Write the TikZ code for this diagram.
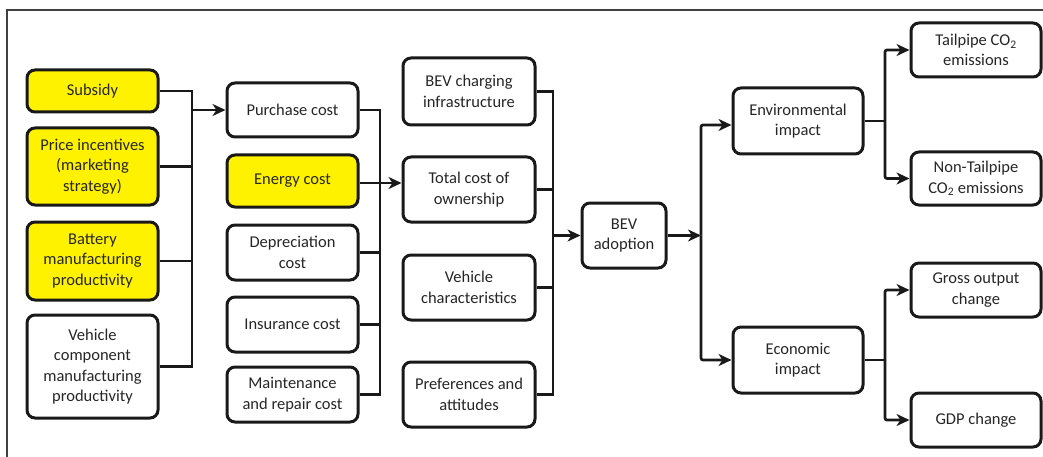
\documentclass[tikz,border=0pt]{standalone}
\usepackage{fontspec}
\setmainfont{Carlito}
\usetikzlibrary{arrows.meta,calc}
\begin{document}
\begin{tikzpicture}[x=1pt,y=-1pt,
  box/.style={draw=black!90,line width=3pt,rounded corners=8pt,fill=white,align=center,
    font=\fontsize{16.5}{20.5}\selectfont,text=black!85,inner sep=2pt,minimum width=#1},
  box/.default=131pt,
  hl/.style={fill=yellow},
  conn/.style={line width=2.7pt,draw=black!90},
  arr/.style={conn,-{Stealth[length=13pt,width=12pt,inset=4pt]}},
  frame/.style={line width=2.2pt,draw=black!75}]
\useasboundingbox (0,0) rectangle (1043,457);
\draw[frame] (7,457) -- (7,10) -- (1043,10);
% column 1
\node[box,hl,minimum height=42pt] (sub) at (92.5,91) {Subsidy};
\node[box,hl,minimum height=77pt] (pri) at (92.5,166.5) {Price incentives\\(marketing\\strategy)};
\node[box,hl,minimum height=78pt] (bat) at (92.5,261) {Battery\\manufacturing\\productivity};
\node[box,minimum height=103pt] (veh) at (92.5,366.5) {Vehicle\\component\\manufacturing\\productivity};
% column 2
\node[box,minimum height=54pt] (pur) at (292.5,110) {Purchase cost};
\node[box,hl,minimum height=52pt] (ene) at (292.5,181) {Energy cost};
\node[box,minimum height=55pt] (dep) at (292.5,252.5) {Depreciation\\cost};
\node[box,minimum height=55pt] (ins) at (292.5,324.5) {Insurance cost};
\node[box,minimum height=55pt] (mai) at (292.5,394.5) {Maintenance\\and repair cost};
% column 3
\node[box=132pt,minimum height=67pt] (chg) at (469,91.5) {BEV charging\\infrastructure};
\node[box=132pt,minimum height=65pt] (tco) at (469,189.5) {Total cost of\\ownership};
\node[box=132pt,minimum height=65pt] (vch) at (469,287.5) {Vehicle\\characteristics};
\node[box=132pt,minimum height=65pt] (pre) at (469,394.5) {Preferences and\\attitudes};
% BEV adoption
\node[box=84pt,minimum height=65pt] (bev) at (624,235.5) {BEV\\adoption};
% impacts
\node[box=130pt,minimum height=66pt] (env) at (798,121) {Environmental\\impact};
\node[box=130pt,minimum height=66pt] (eco) at (798,360) {Economic\\impact};
% outcomes
\node[box=130pt,minimum height=54pt] (tai) at (976,50) {Tailpipe CO\textsubscript{2}\\emissions};
\node[box=130pt,minimum height=53pt] (non) at (976,178.5) {Non-Tailpipe\\CO\textsubscript{2} emissions};
\node[box=130pt,minimum height=54pt] (gro) at (976,290) {Gross output\\change};
\node[box=130pt,minimum height=54pt] (gdp) at (976,420) {GDP change};
% bus coordinates
\coordinate (b1) at (192,0);
\coordinate (b2) at (380,0);
\coordinate (b3) at (553,0);
\coordinate (b4) at (701,0);
\coordinate (b5) at (885,0);
% connectors column 1
\draw[conn] (sub.east) -- (sub.east -| b1) -- (veh.east -| b1) -- (veh.east);
\draw[conn] (pri.east) -- (pri.east -| b1);
\draw[conn] (bat.east) -- (bat.east -| b1);
\draw[arr] (pur.west -| b1) -- (pur.west);
% connectors column 2
\draw[conn] (pur.east) -- (pur.east -| b2) -- (mai.east -| b2) -- (mai.east);
\draw[conn] (dep.east) -- (dep.east -| b2);
\draw[conn] (ins.east) -- (ins.east -| b2);
\draw[arr] ($(ene.east)+(0,2)$) -- ($(ene.east -| tco.west)+(0,2)$);
% connectors column 3
\draw[conn] (chg.east) -- (chg.east -| b3) -- (pre.east -| b3) -- (pre.east);
\draw[conn] (tco.east) -- (tco.east -| b3);
\draw[conn] (vch.east) -- (vch.east -| b3);
\draw[arr] (bev.west -| b3) -- (bev.west);
% BEV adoption to impacts
\draw[arr] (bev.east) -- (bev.east -| b4);
\draw[arr,rounded corners=2pt] (b4 |- bev.east) |- ($(env.west)+(0,4)$);
\draw[arr,rounded corners=2pt] (b4 |- bev.east) |- (eco.west);
% impacts to outcomes
\draw[conn] (env.east) -- (env.east -| b5);
\draw[arr,rounded corners=2pt] (env.east -| b5) |- (tai.west);
\draw[arr,rounded corners=2pt] (env.east -| b5) |- (non.west);
\draw[conn] (eco.east) -- (eco.east -| b5);
\draw[arr,rounded corners=2pt] (eco.east -| b5) |- (gro.west);
\draw[arr,rounded corners=2pt] (eco.east -| b5) |- (gdp.west);
\end{tikzpicture}
\end{document}
